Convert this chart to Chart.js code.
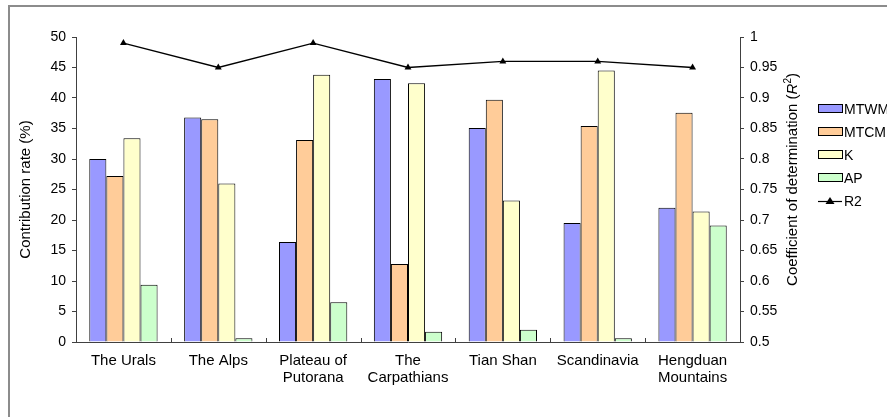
<!DOCTYPE html>
<html lang="en">
<head>
  <meta charset="UTF-8">
  <title>Contribution rate and R2</title>
  <script src="https://cdn.jsdelivr.net/npm/chart.js"></script>
  <style>
    body { margin: 0; background: #fff; }
    .wrap { width: 887px; height: 417px; position: relative; }
  </style>
</head>
<body>
  <div class="wrap"><canvas id="chart"></canvas></div>

  <script>
    const regions = [['The Urals'], ['The Alps'], ['Plateau of', 'Putorana'], ['The', 'Carpathians'],
                     ['Tian Shan'], ['Scandinavia'], ['Hengduan', 'Mountains']];
    const mtwm = [30.0, 36.8, 16.4, 43.1, 35.1, 19.5, 22.0];
    const mtcm = [27.2, 36.5, 33.1, 12.8, 39.7, 35.4, 37.6];
    const kVals = [33.4, 26.0, 43.8, 42.4, 23.2, 44.5, 21.4];
    const ap = [9.4, 0.6, 6.5, 1.7, 2.0, 0.6, 19.1];
    const r2 = [0.99, 0.95, 0.99, 0.95, 0.96, 0.96, 0.95];
    const leftTicks = [0, 50, 5];
    const rightTicks = [0.5, 1, 0.05];

    const FONT = 'Arial, "Liberation Sans", sans-serif';
    const AXIS = '#404040';

    // frame, inner ticks between categories, axis titles, legend
    const extras = {
      id: 'extras',
      beforeDatasetsDraw(chart) {
        const c = chart.ctx, a = chart.chartArea, x = chart.scales.x;
        c.save();
        c.strokeStyle = AXIS;
        c.lineWidth = 1;
        for (let i = 1; i < regions.length; i++) {
          const px = Math.round((x.getPixelForValue(i - 1) + x.getPixelForValue(i)) / 2) + 0.5;
          c.beginPath();
          c.moveTo(px, a.bottom);
          c.lineTo(px, a.bottom - 4);
          c.stroke();
        }
        c.restore();
      },
      afterDraw(chart) {
        const c = chart.ctx, a = chart.chartArea;
        c.save();
        c.strokeStyle = '#8c8c8c';
        c.lineWidth = 2;
        c.strokeRect(9, 6, 1000, 600);

        c.fillStyle = '#000';
        c.textBaseline = 'middle';
        // left title
        c.save();
        c.translate(26, (a.top + a.bottom) / 2);
        c.rotate(-Math.PI / 2);
        c.font = '15px ' + FONT;
        c.textAlign = 'center';
        c.fillText('Contribution rate (%)', 0, 0);
        c.restore();
        // right title with italic R and superscript 2
        c.save();
        c.translate(793, (a.top + a.bottom) / 2 - 10);
        c.rotate(-Math.PI / 2);
        const parts = [['Coefficient of determination (', '15px ' + FONT, 0],
                       ['R', 'italic 15px ' + FONT, 0],
                       ['2', '10px ' + FONT, -5],
                       [')', '15px ' + FONT, 0]];
        let total = 0;
        parts.forEach(p => { c.font = p[1]; total += c.measureText(p[0]).width; });
        let cx = -total / 2;
        c.textAlign = 'left';
        parts.forEach(p => { c.font = p[1]; c.fillText(p[0], cx, p[2]); cx += c.measureText(p[0]).width; });
        c.restore();

        // legend
        c.font = '14px ' + FONT;
        c.textAlign = 'left';
        chart.data.datasets.forEach((ds, i) => {
          const y = 109 + i * 23;
          if (ds.type === 'line') {
            c.strokeStyle = '#000';
            c.lineWidth = 1.2;
            c.beginPath(); c.moveTo(818, y + 0.5); c.lineTo(842, y + 0.5); c.stroke();
            c.fillStyle = '#000';
            c.beginPath(); c.moveTo(830, y - 4); c.lineTo(834.5, y + 3); c.lineTo(825.5, y + 3); c.closePath(); c.fill();
          } else {
            c.fillStyle = ds.backgroundColor;
            c.fillRect(818.5, y - 4.5, 24, 8);
            c.strokeStyle = '#000';
            c.lineWidth = 1;
            c.strokeRect(818.5, y - 4.5, 24, 8);
          }
          c.fillStyle = '#000';
          c.fillText(ds.label, 844, y + 1);
        });
        c.restore();
      }
    };

    const barStyle = { borderColor: '#000', borderWidth: 1, barPercentage: 1, categoryPercentage: 0.72, yAxisID: 'y', order: 2 };

    new Chart(document.getElementById('chart'), {
      data: {
        labels: regions,
        datasets: [
          { type: 'bar', label: 'MTWM', data: mtwm, backgroundColor: '#9999ff', ...barStyle },
          { type: 'bar', label: 'MTCM', data: mtcm, backgroundColor: '#ffcc99', ...barStyle },
          { type: 'bar', label: 'K', data: kVals, backgroundColor: '#ffffcc', ...barStyle },
          { type: 'bar', label: 'AP', data: ap, backgroundColor: '#ccffcc', ...barStyle },
          { type: 'line', label: 'R2', data: r2, yAxisID: 'y1', order: 1,
            borderColor: '#000', borderWidth: 1.3, backgroundColor: '#000',
            pointStyle: 'triangle', pointRadius: 4, pointBorderWidth: 0, tension: 0 }
        ]
      },
      options: {
        responsive: true,
        maintainAspectRatio: false,
        animation: false,
        layout: { padding: { left: 0, right: 0, top: 37, bottom: 0 } },
        plugins: { legend: { display: false }, tooltip: { enabled: false } },
        scales: {
          x: {
            offset: true,
            grid: { display: false, drawTicks: false },
            border: { display: true, color: AXIS, width: 1 },
            ticks: { color: '#000', font: { family: FONT, size: 15, lineHeight: 1.15 }, padding: 10, maxRotation: 0, autoSkip: false },
            afterFit(s) { s.height = 75; }
          },
          y: {
            position: 'left',
            min: leftTicks[0], max: leftTicks[1],
            grid: { drawOnChartArea: false, tickLength: 4, color: AXIS },
            border: { color: AXIS, width: 1 },
            ticks: { stepSize: leftTicks[2], color: '#000', font: { family: FONT, size: 14 }, padding: 6 },
            afterFit(s) { s.width = 76; }
          },
          y1: {
            position: 'right',
            min: rightTicks[0], max: rightTicks[1],
            grid: { drawOnChartArea: false, tickLength: 4, color: AXIS },
            border: { color: AXIS, width: 1 },
            ticks: { stepSize: rightTicks[2], color: '#000', font: { family: FONT, size: 14 }, padding: 6,
                     callback: v => String(+v.toFixed(2)) },
            afterFit(s) { s.width = 147; }
          }
        }
      },
      plugins: [extras]
    });
  </script>
</body>
</html>
